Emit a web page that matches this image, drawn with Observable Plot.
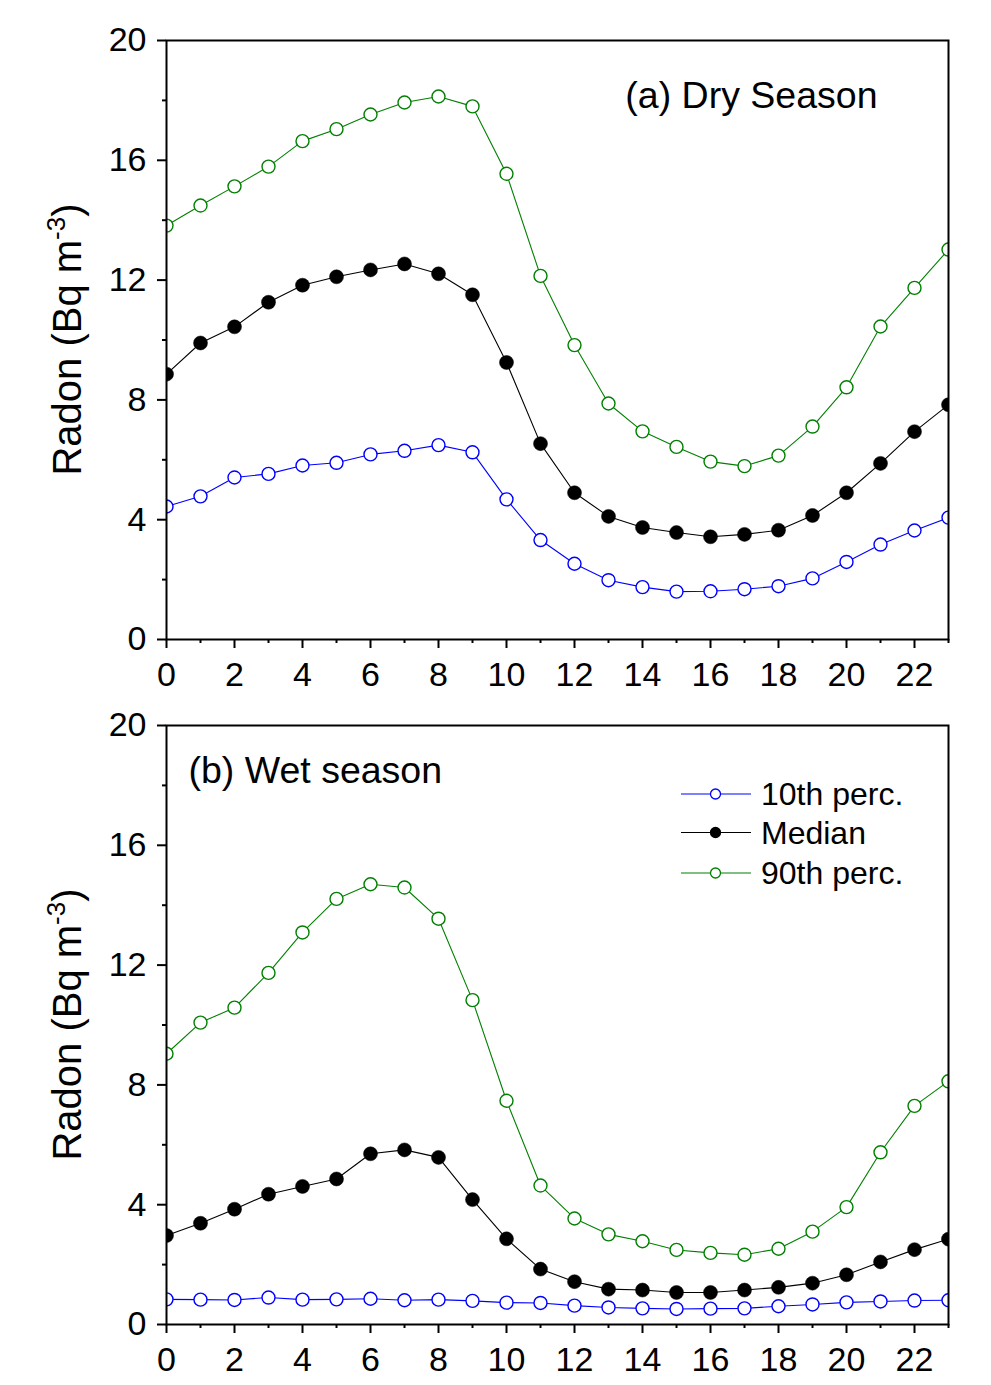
<!DOCTYPE html>
<html><head><meta charset="utf-8">
<script src="https://cdn.jsdelivr.net/npm/d3@7"></script>
<script src="https://cdn.jsdelivr.net/npm/@observablehq/plot@0.6"></script>
<style>
html,body{margin:0;padding:0;background:#fff;}
#chart{width:991px;}
#chart svg{display:block;}
</style></head><body><div id="chart"></div>
<script>
// ---- data ----
const hours = d3.range(0, 24);
const seriesNames = ["10th perc.", "Median", "90th perc."];
const seriesColors = ["#0000ff", "#000000", "#008000"];

const dry10  = [4.44,4.78,5.41,5.53,5.81,5.90,6.18,6.30,6.49,6.25,4.68,3.32,2.53,1.98,1.75,1.60,1.61,1.68,1.78,2.04,2.59,3.17,3.64,4.07];
const dryMed = [8.86,9.90,10.44,11.26,11.83,12.11,12.34,12.54,12.21,11.51,9.25,6.54,4.90,4.11,3.74,3.57,3.43,3.51,3.65,4.14,4.90,5.88,6.94,7.84];
const dry90  = [13.82,14.49,15.13,15.79,16.64,17.04,17.53,17.93,18.13,17.80,15.55,12.14,9.83,7.88,6.95,6.43,5.94,5.79,6.14,7.11,8.42,10.45,11.74,13.02];

const wet10  = [0.84,0.83,0.82,0.90,0.83,0.84,0.86,0.81,0.83,0.79,0.73,0.72,0.63,0.57,0.54,0.52,0.53,0.54,0.61,0.67,0.74,0.77,0.80,0.81];
const wetMed = [2.97,3.38,3.85,4.35,4.61,4.86,5.70,5.83,5.58,4.17,2.86,1.85,1.43,1.18,1.15,1.07,1.07,1.15,1.24,1.38,1.66,2.09,2.50,2.85];
const wet90  = [9.04,10.08,10.58,11.74,13.09,14.21,14.70,14.59,13.55,10.83,7.47,4.64,3.54,3.01,2.78,2.49,2.39,2.33,2.53,3.10,3.92,5.75,7.30,8.12];

const xMajorTicks = [0,2,4,6,8,10,12,14,16,18,20,22];
const xMinorTicks = [1,3,5,7,9,11,13,15,17,19,21,23];
const yMajorTicks = [0,4,8,12,16,20];
const yMinorTicks = [2,6,10,14,18];

const panelTitles = ["(a) Dry Season", "(b) Wet season"];

function rowsFor(arrs) {
  const out = [];
  arrs.forEach((arr, i) => arr.forEach((v, h) => out.push({hour: hours[h], value: v, series: seriesNames[i]})));
  return out;
}

const FONT = "'Liberation Sans', Arial, Helvetica, sans-serif";

function panel(rows, opts) {
  const hollow = rows.filter(d => d.series !== "Median");
  const filled = rows.filter(d => d.series === "Median");
  const svg = Plot.plot({
    width: 991,
    height: opts.height,
    marginTop: opts.marginTop,
    marginBottom: opts.marginBottom,
    marginLeft: 166,
    marginRight: 43,
    style: {fontFamily: FONT, color: "black", background: "white", overflow: "visible"},
    x: {domain: [0, 23]},
    y: {domain: [0, 20]},
    color: {domain: seriesNames, range: seriesColors},
    marks: [
      Plot.axisX({ticks: xMajorTicks, tickSize: 9, tickPadding: 13, fontSize: 34, label: null, strokeWidth: 2}),
      Plot.axisX({ticks: xMinorTicks, tickSize: 4, tickFormat: () => "", label: null, strokeWidth: 2}),
      Plot.axisY({ticks: yMajorTicks, tickSize: 9, tickPadding: 11, fontSize: 34, label: null, strokeWidth: 2}),
      Plot.axisY({ticks: yMinorTicks, tickSize: 4, tickFormat: () => "", label: null, strokeWidth: 2}),
      Plot.line(rows, {x: "hour", y: "value", z: "series", stroke: "series", strokeWidth: 1.1, clip: true}),
      Plot.dot(hollow, {x: "hour", y: "value", stroke: "series", fill: "white", r: 6.5, strokeWidth: 1.4, clip: true}),
      Plot.dot(filled, {x: "hour", y: "value", fill: "black", stroke: "black", r: 7, strokeWidth: 0.5, clip: true}),
      Plot.text([opts.title], {
        frameAnchor: opts.titleAnchor, lineAnchor: "top", dx: opts.titleDx, dy: opts.titleDy,
        textAnchor: opts.titleTextAnchor, fontSize: 37.5, fill: "black"
      }),
      Plot.frame({stroke: "black", strokeWidth: 2})
    ]
  });
  // y-axis title with superscript
  const s = d3.select(svg);
  const cy = opts.marginTop + (opts.height - opts.marginTop - opts.marginBottom) / 2;
  const t = s.append("text")
    .attr("transform", `translate(81,${cy}) rotate(-90)`)
    .attr("text-anchor", "middle")
    .attr("font-family", FONT)
    .attr("font-size", 40)
    .attr("fill", "black");
  t.append("tspan").text("Radon (Bq m");
  t.append("tspan").attr("font-size", 26).attr("dy", -16).text("-3");
  t.append("tspan").attr("dy", 16).text(")");
  return svg;
}

const root = document.getElementById("chart");

const svgA = panel(rowsFor([dry10, dryMed, dry90]), {
  height: 690, marginTop: 40, marginBottom: 51,
  title: panelTitles[0], titleAnchor: "top-right", titleDx: -71, titleDy: 41, titleTextAnchor: "end"
});
root.appendChild(svgA);

const svgB = panel(rowsFor([wet10, wetMed, wet90]), {
  height: 695, marginTop: 35, marginBottom: 61,
  title: panelTitles[1], titleAnchor: "top-left", titleDx: 22, titleDy: 31, titleTextAnchor: "start"
});
root.appendChild(svgB);

// legend inside panel (b)
const lg = d3.select(svgB).append("g")
  .attr("font-family", FONT).attr("font-size", 32).attr("text-anchor", "start");
const legendRowsY = [104, 142.5, 183];
seriesNames.forEach((name, i) => {
  const y = legendRowsY[i];
  const g = lg.append("g");
  g.append("line").attr("x1", 681).attr("x2", 751).attr("y1", y).attr("y2", y)
    .attr("stroke", seriesColors[i]).attr("stroke-width", 1.1);
  g.append("circle").attr("cx", 715.5).attr("cy", y).attr("r", 5)
    .attr("fill", name === "Median" ? "black" : "white")
    .attr("stroke", seriesColors[i]).attr("stroke-width", 1.3);
  g.append("text").attr("x", 761).attr("y", y).attr("dy", "0.35em")
    .attr("text-anchor", "start").attr("fill", "black").text(name);
});
</script>
</body></html>
